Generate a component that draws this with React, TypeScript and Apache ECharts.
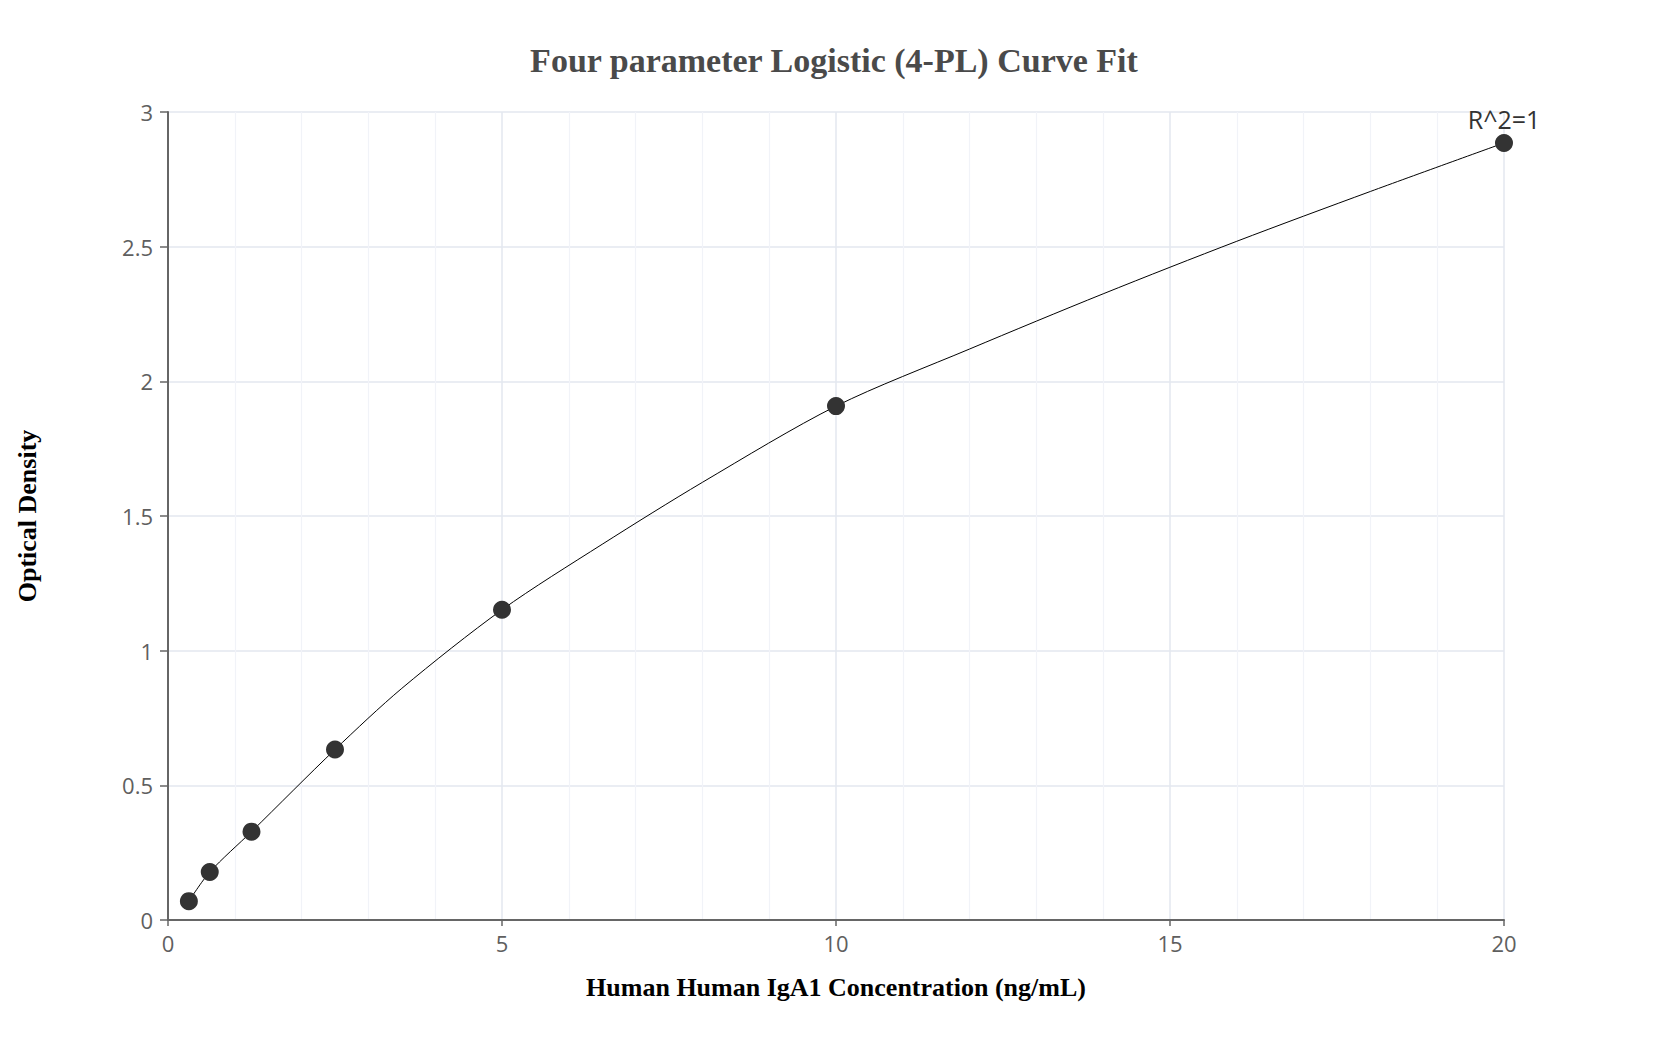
import React, { useEffect, useRef } from 'react';
import * as echarts from 'echarts';

// standard points (concentration, OD)
const stdConc = [0.3125, 0.625, 1.25, 2.5, 5, 10, 20];
const stdOD = [0.07, 0.178, 0.328, 0.633, 1.152, 1.908, 2.885];

// fitted curve
const curveConc = [0.3125, 0.625, 1.25, 2.5, 3.5, 5, 6.5, 8, 10, 12, 14, 16, 18, 20];
const curveOD = [0.07, 0.178, 0.328, 0.633, 0.86, 1.152, 1.395, 1.625, 1.908, 2.12, 2.325, 2.52, 2.705, 2.885];

const fitLabel = 'R^2=1';
const chartTitle = 'Four parameter Logistic (4-PL) Curve Fit';
const xTitle = 'Human Human IgA1 Concentration (ng/mL)';
const yTitle = 'Optical Density';

const serif = '"Liberation Serif", "Times New Roman", serif';
const sans = '"Open Sans", "Noto Sans", sans-serif';

const App: React.FC = () => {
  const chartRef = useRef<HTMLDivElement>(null);

  useEffect(() => {
    if (!chartRef.current) return;
    document.body.style.margin = '0';
    const chart = echarts.init(chartRef.current, null, { renderer: 'svg' });

    const axisLine = { show: true, lineStyle: { color: '#666', width: 2 } };
    const axisLabel = { color: '#5f5f5f', fontSize: 22, fontFamily: sans };

    const option: echarts.EChartsOption = {
      animation: false,
      backgroundColor: '#fff',
      title: {
        text: chartTitle,
        left: 'center',
        top: 38,
        textStyle: { fontFamily: serif, fontWeight: 'bold', fontSize: 34, color: '#4a4a4a' }
      },
      grid: { left: 168, right: 164, top: 112, bottom: 130 },
      xAxis: {
        type: 'value',
        min: 0,
        max: 20,
        interval: 5,
        name: xTitle,
        nameLocation: 'middle',
        nameGap: 54,
        nameTextStyle: { fontFamily: serif, fontWeight: 'bold', fontSize: 26, color: '#000' },
        axisLine,
        axisTick: { show: true, length: 6, lineStyle: { color: '#666', width: 1.5 } },
        axisLabel: { ...axisLabel, margin: 12 },
        splitLine: { show: true, lineStyle: { color: '#e3e7ef', width: 1.5 } },
        minorTick: { show: false, splitNumber: 5 },
        minorSplitLine: { show: true, lineStyle: { color: '#f1f3f8', width: 1.2 } }
      },
      yAxis: {
        type: 'value',
        min: 0,
        max: 3,
        interval: 0.5,
        name: yTitle,
        nameLocation: 'middle',
        nameGap: 128,
        nameTextStyle: { fontFamily: serif, fontWeight: 'bold', fontSize: 26, color: '#000' },
        axisLine,
        axisTick: { show: true, length: 8, lineStyle: { color: '#666', width: 1.5 } },
        axisLabel: { ...axisLabel, margin: 15 },
        splitLine: { show: true, lineStyle: { color: '#e3e7ef', width: 1.5 } }
      },
      series: [
        {
          name: 'fit',
          type: 'line',
          data: curveConc.map((c, i) => [c, curveOD[i]]),
          smooth: 0.3,
          symbol: 'none',
          lineStyle: { color: '#000', width: 1 },
          z: 2
        },
        {
          name: 'standards',
          type: 'scatter',
          data: stdConc.map((c, i) => {
            const point: any = { value: [c, stdOD[i]] };
            if (i === stdConc.length - 1) {
              point.label = {
                show: true,
                position: 'top',
                distance: 2,
                formatter: fitLabel,
                color: '#333',
                fontSize: 25,
                fontFamily: sans
              };
            }
            return point;
          }),
          symbolSize: 18,
          itemStyle: { color: '#333', opacity: 1 },
          z: 3
        }
      ]
    };

    chart.setOption(option);
    return () => {
      chart.dispose();
    };
  }, []);

  return <div ref={chartRef} style={{ width: 1668, height: 1050 }} />;
};

export default App;
